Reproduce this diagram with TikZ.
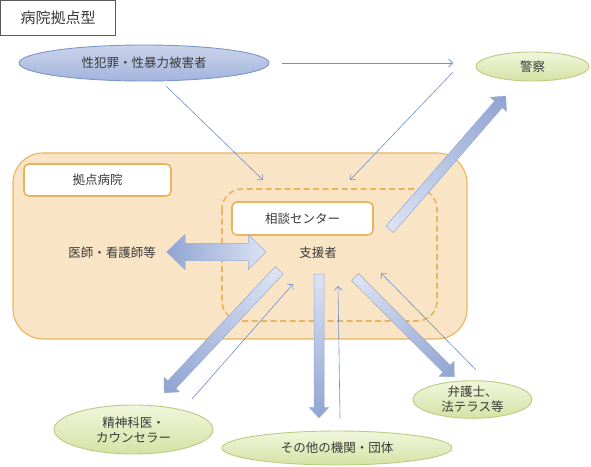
\documentclass[tikz,border=0pt]{standalone}
\usepackage{fontspec}
\newfontfamily\jp{Noto Sans CJK JP}
\usetikzlibrary{shapes.geometric,arrows.meta}
\definecolor{txt}{HTML}{3A3A3A}
\definecolor{blight}{HTML}{DCE3F3}
\definecolor{bdark}{HTML}{8FA4D2}
\definecolor{bedge}{HTML}{96AAD5}
\definecolor{thinblue}{HTML}{6E8FCB}
\definecolor{vtop}{HTML}{CBD4EB}
\definecolor{vbot}{HTML}{A2B3DC}
\definecolor{vedge}{HTML}{7C96CB}
\definecolor{gtop}{HTML}{F1F6DC}
\definecolor{gbot}{HTML}{D5E2A5}
\definecolor{gedge}{HTML}{B9CD80}
\definecolor{hfill}{HTML}{F9E5C6}
\definecolor{horange}{HTML}{E8B55E}
\definecolor{tborder}{HTML}{5A5A5A}
\begin{document}
\begin{tikzpicture}[x=1pt,y=-1pt,
  every node/.style={font=\jp\fontsize{12.5}{15}\selectfont, text=txt},
  thinarrow/.style={draw=thinblue, line width=0.6pt, -{Straight Barb[length=4pt,width=8pt]}},
  blockfill/.style={left color=blight, right color=bdark, draw=bedge, line width=0.5pt},
  greenell/.style={ellipse, draw=gedge, line width=0.9pt, top color=gtop, bottom color=gbot, inner sep=0pt, align=center},
  whitebox/.style={draw=horange, line width=1.6pt, fill=white, rounded corners=5pt, minimum height=32pt},
  titlebox/.style={draw=tborder, line width=0.9pt, fill=white, minimum width=115pt, minimum height=35pt, inner sep=0pt, font=\jp\fontsize{15}{18}\selectfont}
]
\useasboundingbox (0,0) rectangle (591,466);
\fill[white] (0,0) rectangle (591,466);

% title
\node[titlebox] (title) at (58,18) {病院拠点型};

% hospital area
\draw[fill=hfill, draw=horange, line width=1.1pt, rounded corners=30pt] (13,153) rectangle (467,339);
\node[whitebox, minimum width=147pt] (hosp) at (97.5,180) {拠点病院};
\draw[draw=horange, line width=1.6pt, dashed, dash pattern=on 6pt off 3.5pt, rounded corners=20pt] (222,189) rectangle (437,321);
\node[whitebox, minimum width=141pt, minimum height=33pt] (center) at (302.5,218.5) {相談センター};
\node (supp) at (318,253) {支援者};
\node (doc) at (112,253) {医師・看護師等};

% ellipses
\node[ellipse, draw=vedge, line width=0.9pt, top color=vtop, bottom color=vbot, minimum width=250pt, minimum height=36pt, inner sep=0pt] (victim) at (144,63) {性犯罪・性暴力被害者};
\node[greenell, minimum width=113pt, minimum height=29pt] (police) at (532.5,66.5) {警察};
\node[greenell, minimum width=119pt, minimum height=35pt] (lawyer) at (472.5,399.5) {弁護士、\\法テラス等};
\node[greenell, minimum width=159pt, minimum height=49pt] (psych) at (133.5,429.5) {精神科医・\\カウンセラー};
\node[greenell, minimum width=230pt, minimum height=34pt] (other) at (337,448) {その他の機関・団体};

% coordinates for connectors
\coordinate (v1) at (282,63);
\coordinate (v2) at (453,63);
\coordinate (p1) at (453,72);
\coordinate (p2) at (350,180);
\coordinate (v3) at (166,86);
\coordinate (v4) at (263,180);
\coordinate (s1) at (192,399);
\coordinate (s2) at (293,284);
\coordinate (o1) at (340,418);
\coordinate (o2) at (338,286);
\coordinate (l1) at (476,370);
\coordinate (l2) at (381,273);

\draw[thinarrow] (v1) -- (v2);
\draw[thinarrow] (p1) -- (p2);
\draw[thinarrow] (v3) -- (v4);
\draw[thinarrow] (s1) -- (s2);
\draw[thinarrow] (o1) -- (o2);
\draw[thinarrow] (l1) -- (l2);

% block arrows
\coordinate (bpT) at (389.7,229.3);
\coordinate (bsT) at (279.2,270.3);
\coordinate (boT) at (319,274);
\coordinate (blT) at (355,277);

\begin{scope}[transform canvas={shift={(bpT)},rotate=48.97}]
  \shade[blockfill] (0,-5) -- (165.7,-5) -- (165.7,-10.5) -- (176.7,0) -- (165.7,10.5) -- (165.7,5) -- (0,5) -- cycle;
\end{scope}
\begin{scope}[transform canvas={shift={(bsT)},rotate=226.8}]
  \shade[blockfill] (0,-5.5) -- (156.9,-5.5) -- (156.9,-10.5) -- (167.9,0) -- (156.9,10.5) -- (156.9,5.5) -- (0,5.5) -- cycle;
\end{scope}
\begin{scope}[transform canvas={shift={(boT)},rotate=270}]
  \shade[blockfill] (0,-5) -- (133.7,-5) -- (133.7,-9.5) -- (143.7,0) -- (133.7,9.5) -- (133.7,5) -- (0,5) -- cycle;
\end{scope}
\begin{scope}[transform canvas={shift={(blT)},rotate=-45.1}]
  \shade[blockfill] (0,-5) -- (129.7,-5) -- (129.7,-10.5) -- (140.7,0) -- (129.7,10.5) -- (129.7,5) -- (0,5) -- cycle;
\end{scope}

% double arrow
\shade[left color=bdark, right color=blight, draw=bedge, line width=0.5pt]
  (166.7,252) -- (185,234.5) -- (185,243.3) -- (248.3,243.3) -- (248.3,234.5) -- (266,252)
  -- (248.3,269.5) -- (248.3,260.7) -- (185,260.7) -- (185,269.5) -- cycle;
\end{tikzpicture}
\end{document}
